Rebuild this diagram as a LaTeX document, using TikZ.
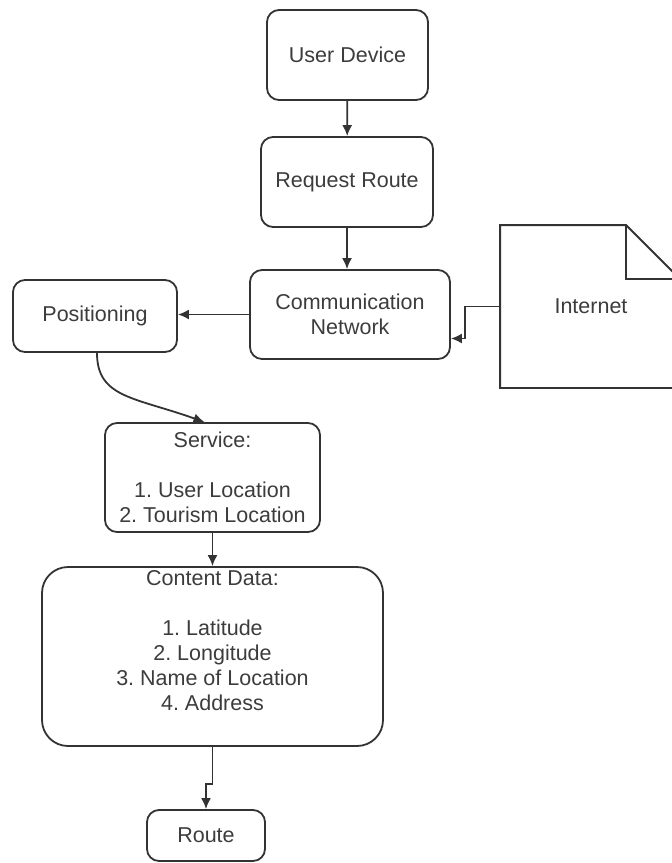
\documentclass[tikz,border=0pt]{standalone}
\usepackage{fontspec}
\setmainfont{Liberation Sans}
\frenchspacing
\usetikzlibrary{calc,positioning,arrows.meta}
\definecolor{ink}{HTML}{333333}
\definecolor{txt}{HTML}{3C3C3C}
\tikzset{
  line/.style={-{Latex[length=11pt,width=10pt]}, line width=1.8pt, draw=ink},
  box/.style={draw=ink, line width=1.8pt, rounded corners=12pt, align=center, inner sep=3pt,
    text=txt, font=\fontsize{21.5}{25}\selectfont},
  smallbox/.style={box, minimum width=161pt, minimum height=90pt},
  bigbox/.style={box, rounded corners=26pt}
}
\begin{document}
\begin{tikzpicture}[x=1pt, y=-1pt]
  \useasboundingbox (0,0) rectangle (672,863);
  \node[smallbox] (dev) at (347.5,55) {User Device};
  \node[smallbox, minimum width=172pt] (req) at (347,182) {Request Route};
  \node[smallbox, minimum width=200pt, minimum height=89pt] (comm) at (350,314.5) {Communication\\Network};
  \node[box, minimum width=164pt, minimum height=72pt] (pos) at (95,316) {Positioning};
  \node[box, draw=none, minimum width=180pt, minimum height=161pt] (inet) at (591,306.5) {Internet};
  \draw[ink, line width=1.8pt] (inet.north west) -- ++(126,0) -- ++(54,54) |- (inet.south west) -- cycle;
  \draw[ink, line width=1.8pt] ($(inet.north west)+(126,0)$) -- ++(0,54) -- ++(54,0);
  \node[box, minimum width=215pt, minimum height=109pt] (srv) at (212.5,477.5)
    {Service:\\[25pt]1. User Location\\2. Tourism Location};
  \node[bigbox, minimum width=341pt, minimum height=179pt] (data) at (212.5,656.5) {};
  \node[box, draw=none, anchor=north, inner sep=0pt] (datatxt) at ([yshift=-3pt]data.north)
    {Content Data:\\[25pt]1. Latitude\\2. Longitude\\3. Name of Location\\4. Address};
  \node[box, minimum width=118pt, minimum height=51pt] (route) at (206,835.5) {Route};
  \draw[line] (dev) -- (req);
  \draw[line] (req.south) -- (req.south |- comm.north);
  \draw[line] (comm.west) -- (comm.west -| pos.east);
  \draw[line] (inet.west) -- ++(-35,0) |- ([yshift=-24pt]comm.east);
  \draw[line] ([xshift=2pt]pos.south) .. controls +(0,45) and +(-70,-25) .. ([xshift=-8pt]srv.north);
  \draw[line] (srv) -- (data);
  \draw[line] (data.south) -- ++(0,37) -| (route.north);
\end{tikzpicture}
\end{document}
